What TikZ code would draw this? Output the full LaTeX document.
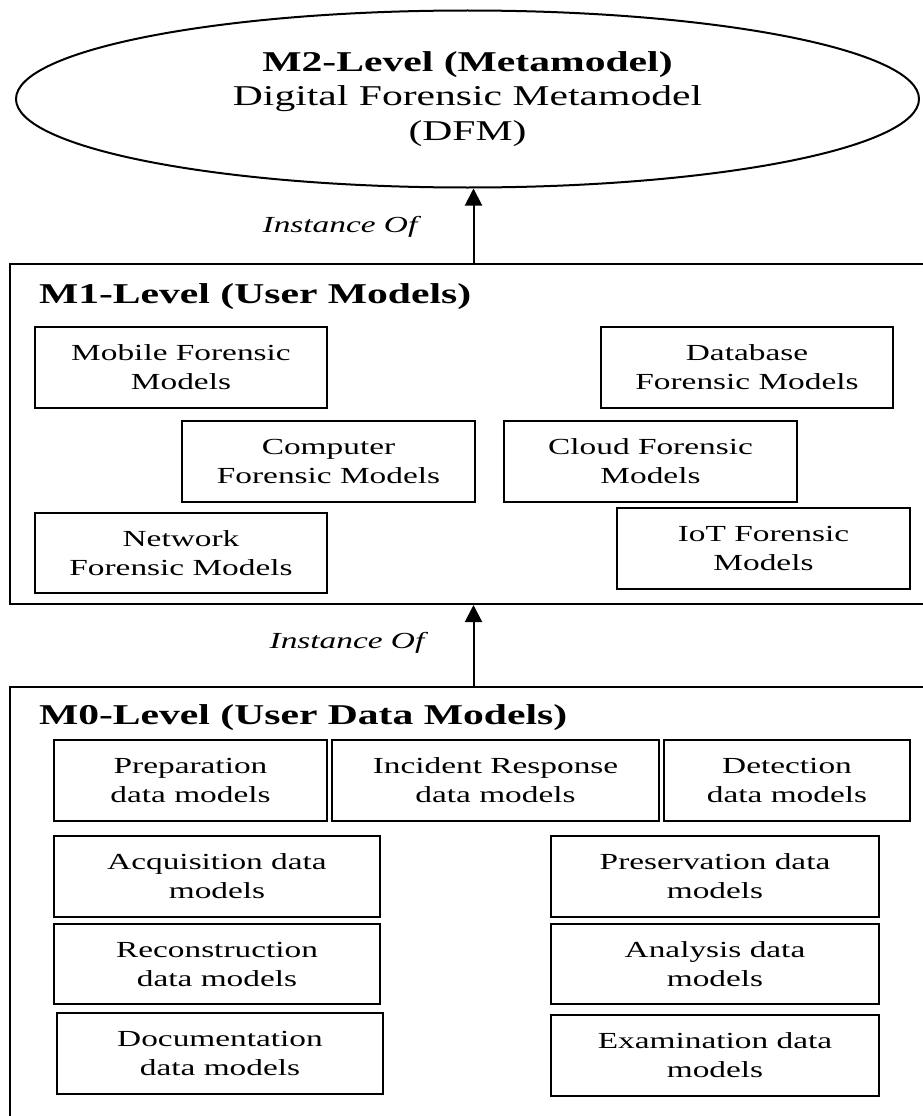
\documentclass[tikz,border=0pt]{standalone}
\usepackage{fontspec}
\setmainfont{Liberation Serif}[FakeStretch=1.45]
\usetikzlibrary{shapes.geometric,arrows.meta}
\begin{document}
\begin{tikzpicture}[x=1pt,y=-1pt,
  line width=2pt,
  bodytext/.style={font=\fontsize{23}{29}\selectfont},
  bigtext/.style={font=\fontsize{28.7}{34.5}\selectfont},
  levelbox/.style={draw, anchor=north west, inner sep=0pt, minimum width=930pt},
  modelbox/.style={draw, bodytext, anchor=north west, inner sep=0pt, align=center},
  leveltitle/.style={anchor=west, inner sep=0pt, font=\fontsize{28.7}{34.5}\selectfont\bfseries},
  relabel/.style={inner sep=0pt, font=\fontsize{23}{29}\selectfont\itshape},
  arr/.style={-{Triangle[width=17pt,length=17pt]}, line width=2pt}]
\useasboundingbox (0,0) rectangle (922,1116);

% M2: the metamodel
\node[draw, ellipse, bigtext, align=center, inner sep=0pt,
      minimum width=903pt, minimum height=177pt] (dfm) at (467.5,99)
  {\textbf{M2-Level (Metamodel)}\\Digital Forensic Metamodel\\(DFM)};

% M1: user models
\node[levelbox, minimum height=340pt] (m1) at (9,263) {};
\node[leveltitle] (m1title) at (38,297) {M1-Level (User Models)};
\node[modelbox, minimum width=292pt, minimum height=81pt] (mobile)   at (34,326)  {Mobile Forensic\\Models};
\node[modelbox, minimum width=292pt, minimum height=81pt] (database) at (600,326) {Database\\Forensic Models};
\node[modelbox, minimum width=293pt, minimum height=81pt] (computer) at (181,420) {Computer\\Forensic Models};
\node[modelbox, minimum width=293pt, minimum height=81pt] (cloud)    at (503,420) {Cloud Forensic\\Models};
\node[modelbox, minimum width=292pt, minimum height=80pt] (network)  at (34,512)  {Network\\Forensic Models};
\node[modelbox, minimum width=293pt, minimum height=81pt] (iot)      at (616,507) {IoT Forensic\\Models};

% M0: user data models
\node[levelbox, minimum height=450pt] (m0) at (9,686) {};
\node[leveltitle] (m0title) at (38,718) {M0-Level (User Data Models)};
\node[modelbox, minimum width=273pt, minimum height=81pt] (prep)     at (53,739)  {Preparation\\data models};
\node[modelbox, minimum width=327pt, minimum height=81pt] (incident) at (331,739) {Incident Response\\data models};
\node[modelbox, minimum width=246pt, minimum height=81pt] (detect)   at (663,739) {Detection\\data models};
\node[modelbox, minimum width=326pt, minimum height=81pt] (acq)      at (53,835)  {Acquisition data\\models};
\node[modelbox, minimum width=328pt, minimum height=81pt] (pres)     at (550,835) {Preservation data\\models};
\node[modelbox, minimum width=326pt, minimum height=80pt] (recon)    at (53,923)  {Reconstruction\\data models};
\node[modelbox, minimum width=328pt, minimum height=80pt] (analysis) at (550,923) {Analysis data\\models};
\node[modelbox, minimum width=326pt, minimum height=81pt] (doc)      at (56,1012) {Documentation\\data models};
\node[modelbox, minimum width=328pt, minimum height=81pt] (exam)     at (550,1014) {Examination data\\models};

% instance-of relations
\coordinate (axis) at (473.5,0);
\draw[arr] (m1.north -| axis) -- (dfm.south -| axis);
\draw[arr] (m0.north -| axis) -- (m1.south -| axis);
\node[relabel] (inst1) at (340,227) {Instance Of};
\node[relabel] (inst2) at (347,643) {Instance Of};
\end{tikzpicture}
\end{document}
